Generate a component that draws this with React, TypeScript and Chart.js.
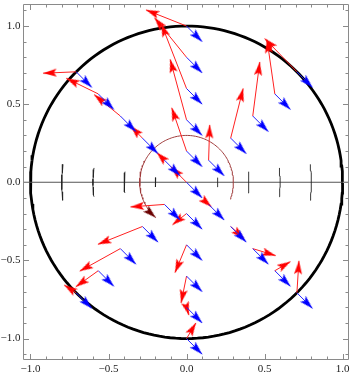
import React, { useEffect, useRef } from "react";
import { Chart, registerables } from "chart.js";

Chart.register(...registerables);

// ---------- data ----------
const rayAngles = [45, 90, 135, 225, 270, 315]; // degrees
const ringRadii = [0.2, 0.4, 0.6, 0.8, 1.0];
const blueShift = [0.1, -0.1];

const red45 = [[0.007, 0.226], [0.08, 0.318], [0.045, 0.346], [-0.05, 0.347], [-0.206, 0.213]];
const red90 = [[-0.095, 0.277], [-0.105, 0.387], [-0.162, 0.415], [-0.205, 0.253], [-0.26, 0.103]];
const red135 = [[-0.05, 0.05], [-0.076, 0.078], [-0.168, 0.137], [-0.205, 0.1], [-0.212, -0.009]];
const red225 = [[-0.218, -0.016], [-0.285, -0.114], [-0.26, -0.144], [-0.144, -0.103], [-0.077, 0.05]];
const red270 = [[-0.09, -0.072], [-0.074, -0.178], [-0.035, -0.172], [0.015, -0.05], [0.06, 0.1]];
const red315 = [[0.018, -0.016], [0.085, -0.078], [0.147, -0.045], [0.1, 0.058], [0.013, 0.205]];
const originRed = [-0.1, 0.1];

const xTickValues = [-1, -0.5, 0, 0.5, 1];
const yTickValues = [-1, -0.5, 0, 0.5, 1];
const minorStep = 0.1;
const xLimits = [-1.048, 1.041];
const yLimits = [-1.137, 1.141];
const unitCircleRadius = 1;
const turnArc = [0.3, -21, 229]; // radius, start angle, end angle (deg)
const markRadii = [0.2, 0.4, 0.6, 0.8];
const markHalfHeights = [0.03, 0.068, 0.092, 0.115];

const FONT = "'Liberation Serif', 'Times New Roman', 'DejaVu Serif', serif";

function fmt(v: number) {
  const s = Math.abs(v).toFixed(1);
  return v < 0 ? "\u2212" + s : s;
}

function makeHead(color: string, L = 13.5, W = 8) {
  const c = document.createElement("canvas");
  c.width = Math.ceil(L * 2);
  c.height = Math.ceil(W + 2);
  const g = c.getContext("2d")!;
  const cx = c.width / 2;
  const cy = c.height / 2;
  g.fillStyle = color;
  g.beginPath();
  g.moveTo(cx, cy);
  g.lineTo(cx - L, cy - W / 2);
  g.lineTo(cx - L * 0.8, cy);
  g.lineTo(cx - L, cy + W / 2);
  g.closePath();
  g.fill();
  return c;
}

export default function App() {
  const ref = useRef<HTMLCanvasElement | null>(null);

  useEffect(() => {
    document.body.style.margin = "0";
    const canvas = ref.current;
    if (!canvas) return;

    const redHead = makeHead("#ff0000");
    const blueHead = makeHead("#0000ff");
    const darkHead = makeHead("#6a0000");

    const rad = Math.PI / 180;
    const arc = (r: number, a0: number, a1: number, step: number) => {
      const pts: { x: number; y: number }[] = [];
      const n = Math.max(2, Math.ceil(Math.abs(a1 - a0) / step) + 1);
      for (let i = 0; i < n; i++) {
        const a = (a0 + ((a1 - a0) * i) / (n - 1)) * rad;
        pts.push({ x: r * Math.cos(a), y: r * Math.sin(a) });
      }
      return pts;
    };

    const headRotation = (ctx: any) => {
      const d = ctx.dataset.data;
      const i = ctx.dataIndex;
      if (!i) return 0;
      const xs = ctx.chart.scales.x;
      const ys = ctx.chart.scales.y;
      const x1 = xs.getPixelForValue(d[i - 1].x);
      const y1 = ys.getPixelForValue(d[i - 1].y);
      const x2 = xs.getPixelForValue(d[i].x);
      const y2 = ys.getPixelForValue(d[i].y);
      return (Math.atan2(y2 - y1, x2 - x1) * 180) / Math.PI;
    };
    const isLast = (ctx: any) => ctx.dataIndex === ctx.dataset.data.length - 1;

    const arrowSet = (data: any[], color: string, head: HTMLCanvasElement, order: number, width = 1) => ({
      data,
      showLine: true,
      borderColor: color,
      borderWidth: width,
      order,
      pointRadius: (ctx: any) => (isLast(ctx) ? 1 : 0),
      pointStyle: (ctx: any) => (isLast(ctx) ? head : "circle"),
      rotation: headRotation,
      pointBorderWidth: 0,
    });

    const redByRay = [red45, red90, red135, red225, red270, red315];
    const points: { x: number; y: number; red: number[] }[] = [{ x: 0, y: 0, red: originRed }];
    rayAngles.forEach((a, i) => {
      ringRadii.forEach((r, j) => {
        points.push({ x: r * Math.cos(a * rad), y: r * Math.sin(a * rad), red: redByRay[i][j] });
      });
    });

    const datasets: any[] = [];
    datasets.push({
      data: arc(unitCircleRadius, 0, 360, 2),
      showLine: true,
      borderColor: "#000",
      borderWidth: 2.8,
      pointRadius: 0,
      order: 6,
    });
    datasets.push({
      data: [{ x: xLimits[0], y: 0 }, { x: xLimits[1], y: 0 }],
      showLine: true,
      borderColor: "#555",
      borderWidth: 1.1,
      pointRadius: 0,
      order: 5,
    });
    markRadii.forEach((r, i) => {
      const h = Math.asin(markHalfHeights[i] / r) / rad;
      [0, 180].forEach((c) => {
        datasets.push({
          data: arc(r, c - h, c + h, 1),
          showLine: true,
          borderColor: "#222",
          borderWidth: 0.9,
          pointRadius: 0,
          order: 4,
        });
      });
    });
    datasets.push(arrowSet(arc(turnArc[0], turnArc[1], turnArc[2], 2), "#a03c3c", darkHead, 3, 1));
    points.forEach((p) => {
      datasets.push(
        arrowSet(
          [{ x: p.x, y: p.y }, { x: p.x + p.red[0], y: p.y + p.red[1] }],
          "#ff2020",
          redHead,
          1
        )
      );
      datasets.push(
        arrowSet(
          [{ x: p.x, y: p.y }, { x: p.x + blueShift[0], y: p.y + blueShift[1] }],
          "#2020ff",
          blueHead,
          0
        )
      );
    });

    const framePlugin = {
      id: "frame",
      afterDatasetsDraw(chart: any) {
        const { ctx, chartArea: a, scales } = chart;
        const xs = scales.x;
        const ys = scales.y;
        ctx.save();
        ctx.strokeStyle = "#8a8a8a";
        ctx.lineWidth = 1;
        ctx.beginPath();
        ctx.rect(a.left + 0.5, a.top + 0.5, a.right - a.left - 1, a.bottom - a.top - 1);
        const kx0 = Math.ceil(xLimits[0] / minorStep - 1e-9);
        const kx1 = Math.floor(xLimits[1] / minorStep + 1e-9);
        for (let k = kx0; k <= kx1; k++) {
          const len = k % 5 === 0 ? 6 : 3.5;
          const px = Math.round(xs.getPixelForValue(k * minorStep)) + 0.5;
          ctx.moveTo(px, a.bottom);
          ctx.lineTo(px, a.bottom - len);
          ctx.moveTo(px, a.top);
          ctx.lineTo(px, a.top + len);
        }
        const ky0 = Math.ceil(yLimits[0] / minorStep - 1e-9);
        const ky1 = Math.floor(yLimits[1] / minorStep + 1e-9);
        for (let k = ky0; k <= ky1; k++) {
          const len = k % 5 === 0 ? 6 : 3.5;
          const py = Math.round(ys.getPixelForValue(k * minorStep)) + 0.5;
          ctx.moveTo(a.left, py);
          ctx.lineTo(a.left + len, py);
          ctx.moveTo(a.right, py);
          ctx.lineTo(a.right - len, py);
        }
        ctx.stroke();
        ctx.restore();
      },
    };

    const tickFont = { family: FONT, size: 11 };

    const chart = new Chart(canvas, {
      type: "scatter",
      data: { datasets },
      options: {
        responsive: false,
        animation: false,
        events: [],
        layout: { padding: { left: 0, right: 0.5, top: 0, bottom: 0 } },
        plugins: { legend: { display: false }, tooltip: { enabled: false } },
        elements: { line: { tension: 0 } },
        scales: {
          x: {
            type: "linear",
            min: xLimits[0],
            max: xLimits[1],
            grid: { display: false, drawTicks: false },
            border: { display: false },
            afterBuildTicks: (s: any) => {
              s.ticks = xTickValues.map((v) => ({ value: v }));
            },
            afterFit: (s: any) => {
              s.height = 16;
              s.paddingLeft = 0;
              s.paddingRight = 0;
            },
            ticks: {
              autoSkip: false,
              maxRotation: 0,
              padding: 3,
              color: "#222",
              font: tickFont,
              callback: (v: any) => fmt(Number(v)),
            },
          },
          y: {
            type: "linear",
            min: yLimits[0],
            max: yLimits[1],
            grid: { display: false, drawTicks: false },
            border: { display: false },
            afterBuildTicks: (s: any) => {
              s.ticks = yTickValues.map((v) => ({ value: v }));
            },
            afterFit: (s: any) => {
              s.width = 23;
              s.paddingTop = 0;
              s.paddingBottom = 0;
            },
            ticks: {
              autoSkip: false,
              padding: 2.5,
              color: "#222",
              font: tickFont,
              callback: (v: any) => fmt(Number(v)),
            },
          },
        },
      },
      plugins: [framePlugin],
    } as any);

    return () => chart.destroy();
  }, []);

  return (
    <div style={{ width: 353, height: 376 }}>
      <canvas ref={ref} width={353} height={376} style={{ display: "block", width: 353, height: 376 }} />
    </div>
  );
}
